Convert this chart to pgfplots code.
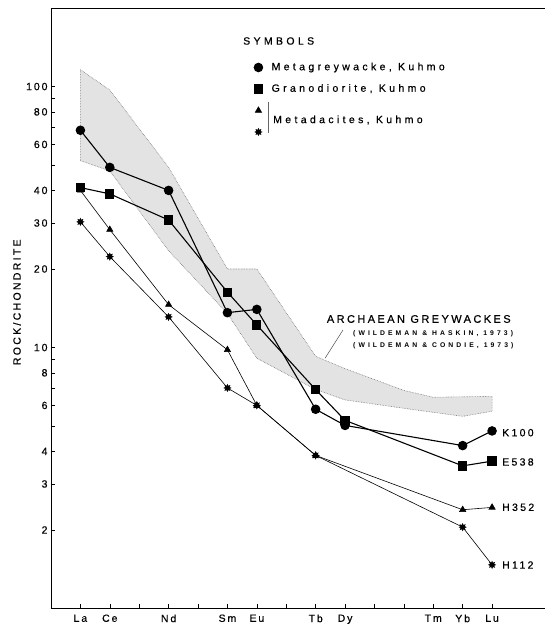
\documentclass[border=0pt]{standalone}
\usepackage{fontspec}
\setmainfont{Liberation Sans}
\newfontfamily\fTick[LetterSpace=18,FakeBold=0.5]{Liberation Sans}
\newfontfamily\fLeg[LetterSpace=32,FakeBold=0.5]{Liberation Sans}
\newfontfamily\fLab[LetterSpace=22,FakeBold=0.5]{Liberation Sans}
\newfontfamily\fTitle[LetterSpace=22,FakeBold=0.5]{Liberation Sans}
\newfontfamily\fCite[LetterSpace=45]{Liberation Sans}
\usepackage{pgfplots}
\usepackage{pgfplotstable}
\pgfplotsset{compat=1.18}

\pgfdeclareplotmark{blob}{%
  \pgfpathmoveto{\pgfqpointpolar{90}{\pgfplotmarksize}}%
  \foreach \a in {112.5,135,...,450}{%
    \pgfmathparse{mod(round((\a-90)/22.5),2)==1 ? 0.55 : 1}%
    \pgfpathlineto{\pgfqpointpolar{\a}{\pgfmathresult\pgfplotmarksize}}%
  }%
  \pgfpathclose
  \pgfusepathqfillstroke
}

\pgfplotstableread{
x y
0 116
1 97
3 49
5 20
6 20
8 9.25
9 8.3
11 6.85
12 6.45
14 6.5
14 5.7
13 5.45
11 5.85
9 6.3
8 6.9
6 9.1
5 13.5
3 23.5
1 47.5
0 52
}\band

\pgfplotstableread{
x y
0 68
1 49
3 40
5 13.6
6 14.0
8 5.8
9 5.03
13 4.21
14 4.79
}\kone

\pgfplotstableread{
x y
0 41
1 38.8
3 30.8
5 16.3
6 12.2
8 6.9
9 5.26
13 3.52
14 3.67
}\efive

\pgfplotstableread{
x y
0 40
1 28.3
3 14.6
5 9.8
6 6.0
8 3.86
13 2.39
14 2.44
}\hthree

\pgfplotstableread{
x y
0 30.3
1 22.3
3 13.1
5 7.0
6 6.0
8 3.86
13 2.05
14 1.47
}\hone

\begin{document}
\begin{tikzpicture}
\useasboundingbox (0,0) rectangle (545pt,627pt);
\begin{axis}[
  at={(51pt,18.5pt)}, anchor=south west,
  scale only axis, width=494pt, height=600.5pt,
  ymode=log, xmin=-1, xmax=15.8, ymin=1, ymax=200,
  axis x line*=box, axis y line*=left,
  xtick={0,...,14},
  xticklabels={La,Ce,,Nd,,Sm,Eu,,Tb,Dy,,,Tm,Yb,Lu},
  xtick pos=left, ytick pos=left,
  ytick={2,3,4,6,8,10,20,30,40,60,80,100},
  yticklabels={2,3,4,6,8,10,20,30,40,60,80,100},
  minor ytick={5,7,9,50,70,90},
  tick align=inside,
  major tick length=4.5pt, minor tick length=4.5pt,
  tick style={black, line width=0.6pt},
  axis line style={black, line width=0.8pt},
  ticklabel style={font=\fTick\fontsize{10.5}{12}\selectfont},
  xticklabel style={yshift=-2.5pt},
  ylabel={ROCK/CHONDRITE},
  ylabel style={at={(axis description cs:-0.069,0.51)}, anchor=center, font=\fLab\fontsize{10.5}{12}\selectfont},
  legend style={draw=none, fill=none, at={(axis description cs:0.4049,0.9125)}, anchor=north west,
    font=\fLeg\fontsize{10.5}{12}\selectfont, row sep=12pt,
    nodes={inner sep=0pt, text height=7.5pt, text depth=2pt},
    /tikz/every odd column/.append style={column sep=9pt}},
  legend cell align=left,
  legend image code/.code={\draw[#1] plot coordinates {(0cm,0cm)};},
]
\addplot[fill=black!11, draw=black!55, densely dotted, line width=0.6pt, forget plot] table {\band} -- cycle;
\addplot[black, line width=1.1pt, mark=*, mark size=4.2pt, mark options={solid}] table {\kone};
\addlegendentry{Metagreywacke, Kuhmo}
\addplot[black, line width=1.1pt, mark=square*, mark size=4.1pt, mark options={solid}] table {\efive};
\addlegendentry{Granodiorite, Kuhmo}
\addplot[black, line width=0.6pt, mark=triangle*, mark size=3.6pt, mark options={solid}] table {\hthree};
\addlegendentry{}
\addplot[black, line width=0.6pt, mark=blob, mark size=3.4pt, mark options={solid, fill=black}] table {\hone};
\addlegendentry{}
\end{axis}
% annotations (pixel coords: x, 627-y)
\node[anchor=west, inner sep=0pt, font=\fLeg\fontsize{10.5}{12}\selectfont] at (243pt,586pt) {SYMBOLS};
\node[anchor=west, inner sep=0pt, font=\fLeg\fontsize{10.5}{12}\selectfont] at (273pt,507pt) {Metadacites, Kuhmo};
\draw[black!60, line width=0.5pt] (268pt,525.3pt) -- (268pt,493.7pt);
\node[anchor=west, inner sep=0pt, font=\fTitle\fontsize{11}{13}\selectfont] at (326.7pt,308pt) {ARCHAEAN GREYWACKES};
\node[anchor=west, inner sep=0pt, font=\fCite\bfseries\fontsize{6.8}{8}\selectfont] at (353pt,293pt) {(WILDEMAN \& HASKIN, 1973)};
\node[anchor=west, inner sep=0pt, font=\fCite\bfseries\fontsize{6.8}{8}\selectfont] at (353pt,281.3pt) {(WILDEMAN \& CONDIE, 1973)};
\draw[black!70, line width=0.5pt] (343pt,297pt) -- (325pt,268.7pt);
\node[anchor=west, inner sep=0pt, font=\fLab\fontsize{10.5}{12}\selectfont] at (502pt,194.3pt) {K100};
\node[anchor=west, inner sep=0pt, font=\fLab\fontsize{10.5}{12}\selectfont] at (502pt,165pt) {E538};
\node[anchor=west, inner sep=0pt, font=\fLab\fontsize{10.5}{12}\selectfont] at (502pt,119.7pt) {H352};
\node[anchor=west, inner sep=0pt, font=\fLab\fontsize{10.5}{12}\selectfont] at (502pt,62pt) {H112};
\end{tikzpicture}
\end{document}
